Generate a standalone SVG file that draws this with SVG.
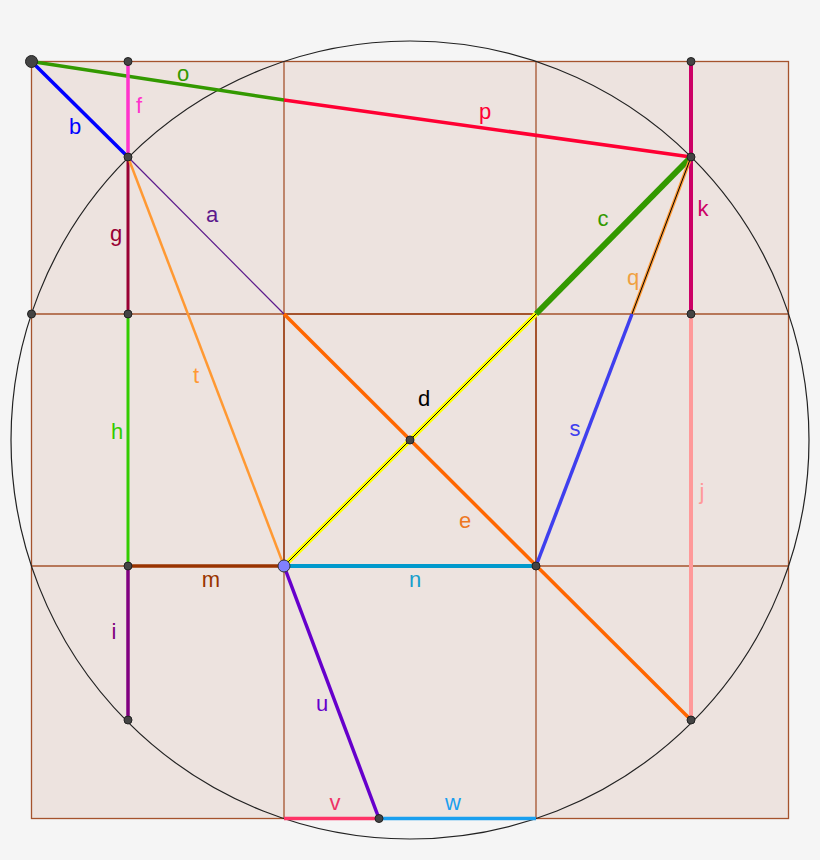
<svg xmlns="http://www.w3.org/2000/svg" width="820" height="860" viewBox="0 0 820 860">
<style>
.grid{stroke:#a5532d;stroke-width:1.3;fill:none}
.pt{fill:#444;stroke:#222;stroke-width:1}
.lbl{font-family:"Liberation Sans",Arial,sans-serif;font-size:22px;text-anchor:middle}
line{stroke-linecap:butt}
</style>
<rect x="0" y="0" width="820" height="860" fill="#f5f5f5"/>
<g id="background">
<rect x="31.5" y="61.5" width="757" height="757" fill="#ede3df" stroke="#a5532d" stroke-width="1.3"/>
<line class="grid" x1="284" y1="61.5" x2="284" y2="818.5"/>
<line class="grid" x1="536" y1="61.5" x2="536" y2="818.5"/>
<line class="grid" x1="31.5" y1="314" x2="788.5" y2="314"/>
<line class="grid" x1="31.5" y1="566" x2="788.5" y2="566"/>
<rect x="284" y="314" width="252" height="252" fill="none" stroke="#a5532d" stroke-width="2"/>
<circle cx="410" cy="440" r="399" fill="none" stroke="#222" stroke-width="1.2"/>
</g>
<g id="connectors">
<line x1="31.5" y1="61.5" x2="284" y2="100" stroke="#339900" stroke-width="3.5"/>
<line x1="284" y1="100" x2="691" y2="157" stroke="#ff0033" stroke-width="3.5"/>
<line x1="31.5" y1="61.5" x2="128" y2="157" stroke="#0000ff" stroke-width="3.5"/>
<line x1="128" y1="61.5" x2="128" y2="157" stroke="#ff33cc" stroke-width="3.5"/>
<line x1="128" y1="157" x2="284" y2="314" stroke="#5c1a8c" stroke-width="1.2"/>
<line x1="128" y1="157" x2="128" y2="314" stroke="#990033" stroke-width="3"/>
<line x1="128" y1="314" x2="128" y2="566" stroke="#33cc00" stroke-width="3"/>
<line x1="128" y1="566" x2="128" y2="720" stroke="#800080" stroke-width="3.5"/>
<line x1="128" y1="566" x2="284" y2="566" stroke="#993300" stroke-width="3.5"/>
<line x1="128" y1="157" x2="284" y2="566" stroke="#ff9933" stroke-width="2.5"/>
<line x1="691" y1="61.5" x2="691" y2="314" stroke="#cc0066" stroke-width="4"/>
<line x1="691" y1="314" x2="691" y2="720" stroke="#ff9999" stroke-width="4"/>
<line x1="536" y1="314" x2="691" y2="157" stroke="#339900" stroke-width="6"/>
<line x1="284" y1="314" x2="691" y2="720" stroke="#ff6600" stroke-width="3.5"/>
<line x1="284" y1="566" x2="536" y2="314" stroke="#ffff00" stroke-width="5"/>
<line x1="284" y1="566" x2="536" y2="314" stroke="#000" stroke-width="1"/>
<line x1="691" y1="157" x2="632" y2="314" stroke="#ff9933" stroke-width="3.5"/>
<line x1="691" y1="157" x2="632" y2="314" stroke="#000" stroke-width="1"/>
<line x1="632" y1="314" x2="536" y2="566" stroke="#3f3fee" stroke-width="3.5"/>
<line x1="284" y1="566" x2="536" y2="566" stroke="#0099cc" stroke-width="4"/>
<line x1="284" y1="566" x2="379" y2="818.5" stroke="#6600cc" stroke-width="3.5"/>
<line x1="284" y1="818.5" x2="379" y2="818.5" stroke="#ff3366" stroke-width="3.5"/>
<line x1="379" y1="818.5" x2="536" y2="818.5" stroke="#1a9fef" stroke-width="3.5"/>
</g>
<g id="points">
<circle id="A" class="pt" cx="31.5" cy="61.5" r="6"/>
<circle id="B" class="pt" cx="128" cy="61.5" r="4"/>
<circle id="C" class="pt" cx="128" cy="157" r="4"/>
<circle id="D" class="pt" cx="31.5" cy="314" r="4"/>
<circle id="E" class="pt" cx="128" cy="314" r="4"/>
<circle id="F" class="pt" cx="128" cy="566" r="4"/>
<circle id="G" class="pt" cx="128" cy="720" r="4"/>
<circle id="H" class="pt" cx="691" cy="61.5" r="4"/>
<circle id="I" class="pt" cx="691" cy="157" r="4"/>
<circle id="J" class="pt" cx="691" cy="314" r="4"/>
<circle id="K" class="pt" cx="691" cy="720" r="4"/>
<circle id="L" class="pt" cx="410" cy="440" r="4"/>
<circle id="M" class="pt" cx="536" cy="566" r="4"/>
<circle id="N" class="pt" cx="379" cy="818.5" r="4"/>
<circle id="O" cx="284" cy="566" r="6" fill="#8080ff" stroke="#333" stroke-width="1"/>
</g>
<g id="labels" class="lbl">
<text x="183" y="81" fill="#339900">o</text>
<text x="139" y="113" fill="#ff33cc">f</text>
<text x="75" y="134" fill="#0000ff">b</text>
<text x="212" y="222" fill="#5c1a8c">a</text>
<text x="116" y="241" fill="#990033">g</text>
<text x="485" y="119" fill="#ff0033">p</text>
<text x="603" y="226" fill="#339900">c</text>
<text x="703" y="216" fill="#cc0066">k</text>
<text x="633" y="285" fill="#f0a040">q</text>
<text x="196" y="383" fill="#ff9933">t</text>
<text x="424" y="406" fill="#000">d</text>
<text x="117" y="439" fill="#33cc00">h</text>
<text x="575" y="436" fill="#3f3fee">s</text>
<text x="702" y="499" fill="#ff9999">j</text>
<text x="465" y="528" fill="#ee7722">e</text>
<text x="211" y="587" fill="#993300">m</text>
<text x="415" y="587" fill="#1a9fcc">n</text>
<text x="114" y="639" fill="#800080">i</text>
<text x="322" y="711" fill="#6600cc">u</text>
<text x="335" y="810" fill="#ee3366">v</text>
<text x="453" y="810" fill="#1a9fef">w</text>
</g>
</svg>
